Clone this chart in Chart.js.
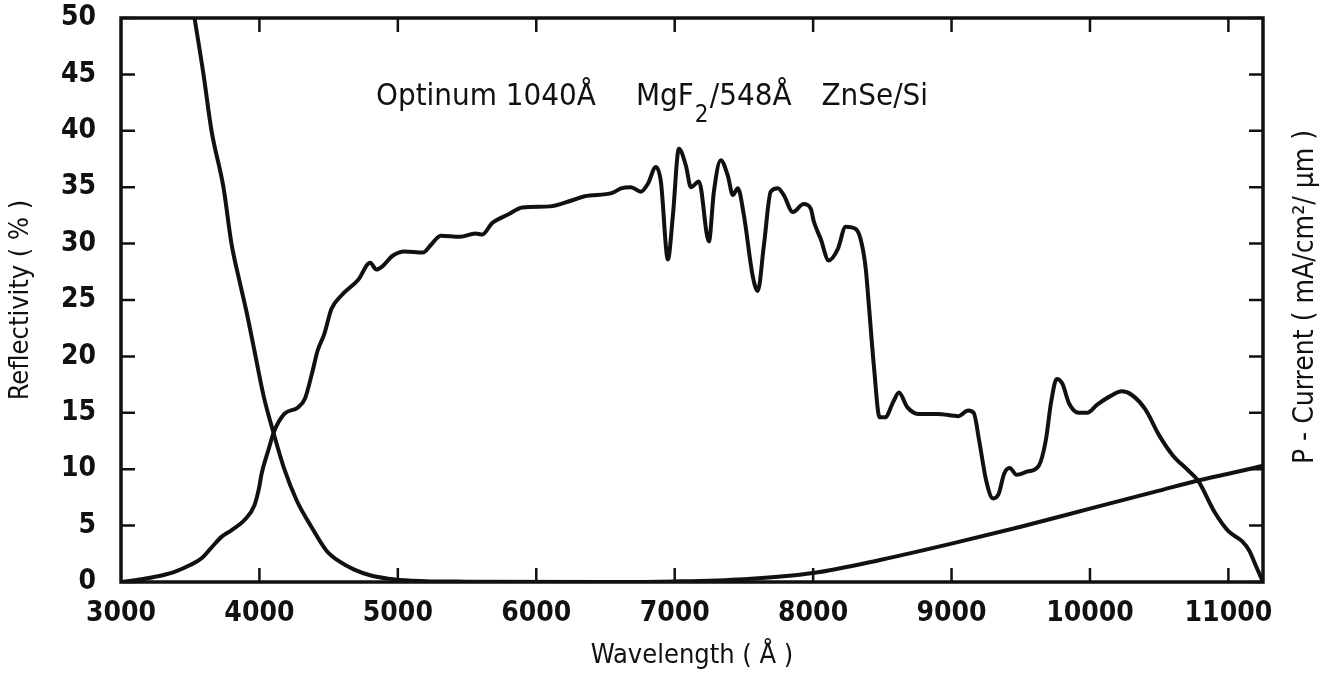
<!DOCTYPE html>
<html>
<head>
<meta charset="utf-8">
<script src="https://cdn.jsdelivr.net/npm/chart.js@4/dist/chart.umd.min.js"></script>
<style>
  html, body { margin: 0; padding: 0; background: #fff; }
  #wrap { width: 1336px; height: 682px; }
</style>
</head>
<body>
<div id="wrap"><canvas id="specChart" width="1336" height="682"></canvas></div>
<script>
// Reflectivity curve (wavelength in Å, reflectivity in %)
const reflWl = [3000, 3100, 3221, 3300, 3387, 3500, 3582, 3650, 3726, 3800, 3892, 3964, 4000, 4014, 4065, 4108,
  4180, 4281, 4330, 4380, 4420, 4469, 4520, 4592, 4714, 4800, 4845, 4890, 4960, 5050, 5180, 5240, 5310, 5450,
  5560, 5610, 5680, 5800, 5900, 6100, 6250, 6350, 6550, 6612, 6684, 6756, 6806, 6864, 6900, 6951, 6987, 7030,
  7081, 7117, 7175, 7247, 7283, 7333, 7384, 7420, 7456, 7500, 7564, 7600, 7644, 7694, 7745, 7788, 7853, 7932,
  7983, 8004, 8055, 8113, 8178, 8235, 8307, 8343, 8380, 8401, 8440, 8480, 8520, 8580, 8620, 8680, 8760, 8900,
  9050, 9120, 9160, 9200, 9250, 9300, 9340, 9380, 9420, 9470, 9550, 9630, 9680, 9720, 9760, 9800, 9850, 9920,
  9980, 10050, 10150, 10230, 10300, 10400, 10500, 10600, 10700, 10780, 10900, 11000, 11100, 11150, 11200, 11250];
const reflVal = [0.0, 0.15, 0.4, 0.6, 0.9, 1.5, 2.1, 3.0, 4.0, 4.6, 5.5, 6.8, 8.5, 9.5, 11.7, 13.4,
  14.9, 15.5, 16.3, 18.5, 20.5, 22.0, 24.2, 25.4, 26.8, 28.3, 27.7, 28.0, 28.9, 29.3, 29.2, 29.9, 30.7, 30.6,
  30.9, 30.8, 31.8, 32.6, 33.2, 33.3, 33.8, 34.2, 34.5, 34.9, 35.0, 34.6, 35.3, 36.8, 35.5, 28.6, 32.5, 38.4,
  36.9, 35.0, 35.5, 30.2, 34.6, 37.4, 36.0, 34.3, 34.9, 32.5, 27.1, 25.8, 29.8, 34.6, 34.9, 34.3, 32.8, 33.5,
  33.1, 32.0, 30.4, 28.5, 29.5, 31.5, 31.3, 30.4, 27.8, 24.8, 19.0, 14.6, 14.6, 16.0, 16.8, 15.5, 14.9, 14.9,
  14.7, 15.2, 15.0, 12.5, 9.0, 7.4, 7.8, 9.6, 10.1, 9.5, 9.8, 10.3, 12.5, 16.0, 18.0, 17.6, 15.8, 15.0,
  15.0, 15.7, 16.5, 16.9, 16.6, 15.3, 13.0, 11.2, 10.0, 9.0, 6.2, 4.5, 3.6, 2.8, 1.4, 0.0];

// P-current curve
const pcWl = [3450, 3531, 3596, 3654, 3740, 3798, 3850, 3906, 3964, 4030, 4100, 4180, 4270, 4375, 4483, 4580,
  4685, 4800, 4930, 5100, 5500, 6500, 7000, 7500, 8000, 8500, 9000, 9500, 10000, 10500, 10780, 11000, 11250];
const pcVal = [56, 50, 45, 40, 35, 30, 27, 24, 20.5, 16.5, 13.3, 10.0, 7.2, 4.9, 2.8, 1.8,
  1.1, 0.6, 0.3, 0.12, 0.03, 0, 0.05, 0.25, 0.8, 2.0, 3.4, 4.9, 6.5, 8.1, 9.0, 9.6, 10.3];

const xTicks = [3000, 4000, 5000, 6000, 7000, 8000, 9000, 10000, 11000];
const yTicks = [0, 5, 10, 15, 20, 25, 30, 35, 40, 45, 50];

const ink = '#111';
const numFont = "'DejaVu Sans Condensed', 'DejaVu Sans', sans-serif";
const txtFont = "'DejaVu Sans Condensed', 'DejaVu Sans', sans-serif";

const toPts = (xs, ys) => xs.map((x, i) => ({x: x, y: ys[i]}));

// box, inward ticks, right title and the annotation
const framePlugin = {
  id: 'frame',
  afterDraw(chart) {
    const {ctx, chartArea: a, scales} = chart;
    ctx.save();
    ctx.strokeStyle = ink;
    ctx.lineWidth = 2.5;
    ctx.beginPath();
    xTicks.forEach(v => {
      const px = scales.x.getPixelForValue(v);
      if (px < a.left + 2) return;
      ctx.moveTo(px, a.bottom); ctx.lineTo(px, a.bottom - 14);
      ctx.moveTo(px, a.top); ctx.lineTo(px, a.top + 14);
    });
    yTicks.forEach(v => {
      const py = scales.y.getPixelForValue(v);
      ctx.moveTo(a.left, py); ctx.lineTo(a.left + 14, py);
      ctx.moveTo(a.right, py); ctx.lineTo(a.right - 14, py);
    });
    ctx.stroke();
    ctx.lineWidth = 3.5;
    ctx.strokeRect(a.left, a.top, a.right - a.left, a.bottom - a.top);

    ctx.fillStyle = ink;
    // right axis title
    ctx.save();
    ctx.translate(1306, 297);
    ctx.rotate(-Math.PI / 2);
    ctx.font = "28px " + txtFont;
    ctx.textAlign = 'center';
    ctx.textBaseline = 'middle';
    ctx.fillText('P - Current ( mA/cm\u00B2/ \u00B5m )', 0, 0);
    ctx.restore();

    // annotation
    ctx.font = "31px " + txtFont;
    ctx.textAlign = 'left';
    ctx.textBaseline = 'alphabetic';
    ctx.fillText('Optinum 1040\u00C5', 376, 105);
    ctx.fillText('MgF', 636, 105);
    const mg = ctx.measureText('MgF').width;
    ctx.font = "24px " + txtFont;
    ctx.fillText('2', 636 + mg + 1, 122);
    ctx.font = "31px " + txtFont;
    ctx.fillText('/548\u00C5', 636 + mg + 16, 105);
    ctx.textAlign = 'right';
    ctx.fillText('ZnSe/Si', 928, 105);
    ctx.restore();
  }
};

const ctx = document.getElementById('specChart').getContext('2d');
new Chart(ctx, {
  type: 'line',
  data: {
    datasets: [{
      label: 'Reflectivity',
      data: toPts(reflWl, reflVal),
      borderColor: ink,
      borderWidth: 4,
      pointRadius: 0,
      cubicInterpolationMode: 'monotone',
      yAxisID: 'y'
    }, {
      label: 'P-Current',
      data: toPts(pcWl, pcVal),
      borderColor: ink,
      borderWidth: 4,
      pointRadius: 0,
      cubicInterpolationMode: 'monotone',
      yAxisID: 'y2'
    }]
  },
  options: {
    responsive: false,
    animation: false,
    layout: { padding: 0 },
    plugins: { legend: { display: false }, tooltip: { enabled: false } },
    scales: {
      x: {
        type: 'linear',
        min: 3000, max: 11250,
        afterBuildTicks: s => { s.ticks = xTicks.map(v => ({value: v})); },
        afterFit: s => { s.height = 100; s.paddingLeft = 0; s.paddingRight = 0; },
        grid: { display: false, drawTicks: false },
        border: { display: false },
        ticks: { padding: 15, color: ink, callback: v => String(v),
                 font: { family: numFont, size: 28, weight: 'bold' } },
        title: { display: true, text: 'Wavelength ( \u00C5 )', color: ink, padding: { top: 0, bottom: 10 },
                 font: { family: txtFont, size: 27 } }
      },
      y: {
        position: 'left',
        min: 0, max: 50,
        afterBuildTicks: s => { s.ticks = yTicks.map(v => ({value: v})); },
        afterFit: s => { s.width = 121; s.paddingTop = 18; s.paddingBottom = 0; },
        grid: { display: false, drawTicks: false },
        border: { display: false },
        ticks: { padding: 25, color: ink, callback: v => String(v),
                 font: { family: numFont, size: 28, weight: 'bold' } },
        title: { display: true, text: 'Reflectivity ( % )', color: ink, padding: { top: 5, bottom: 0 },
                 font: { family: txtFont, size: 27 } }
      },
      y2: {
        position: 'right',
        min: 0, max: 50,
        afterFit: s => { s.width = 73; s.paddingTop = 0; s.paddingBottom = 0; },
        grid: { display: false, drawTicks: false },
        border: { display: false },
        ticks: { display: false }
      }
    }
  },
  plugins: [framePlugin]
});
</script>
</body>
</html>
